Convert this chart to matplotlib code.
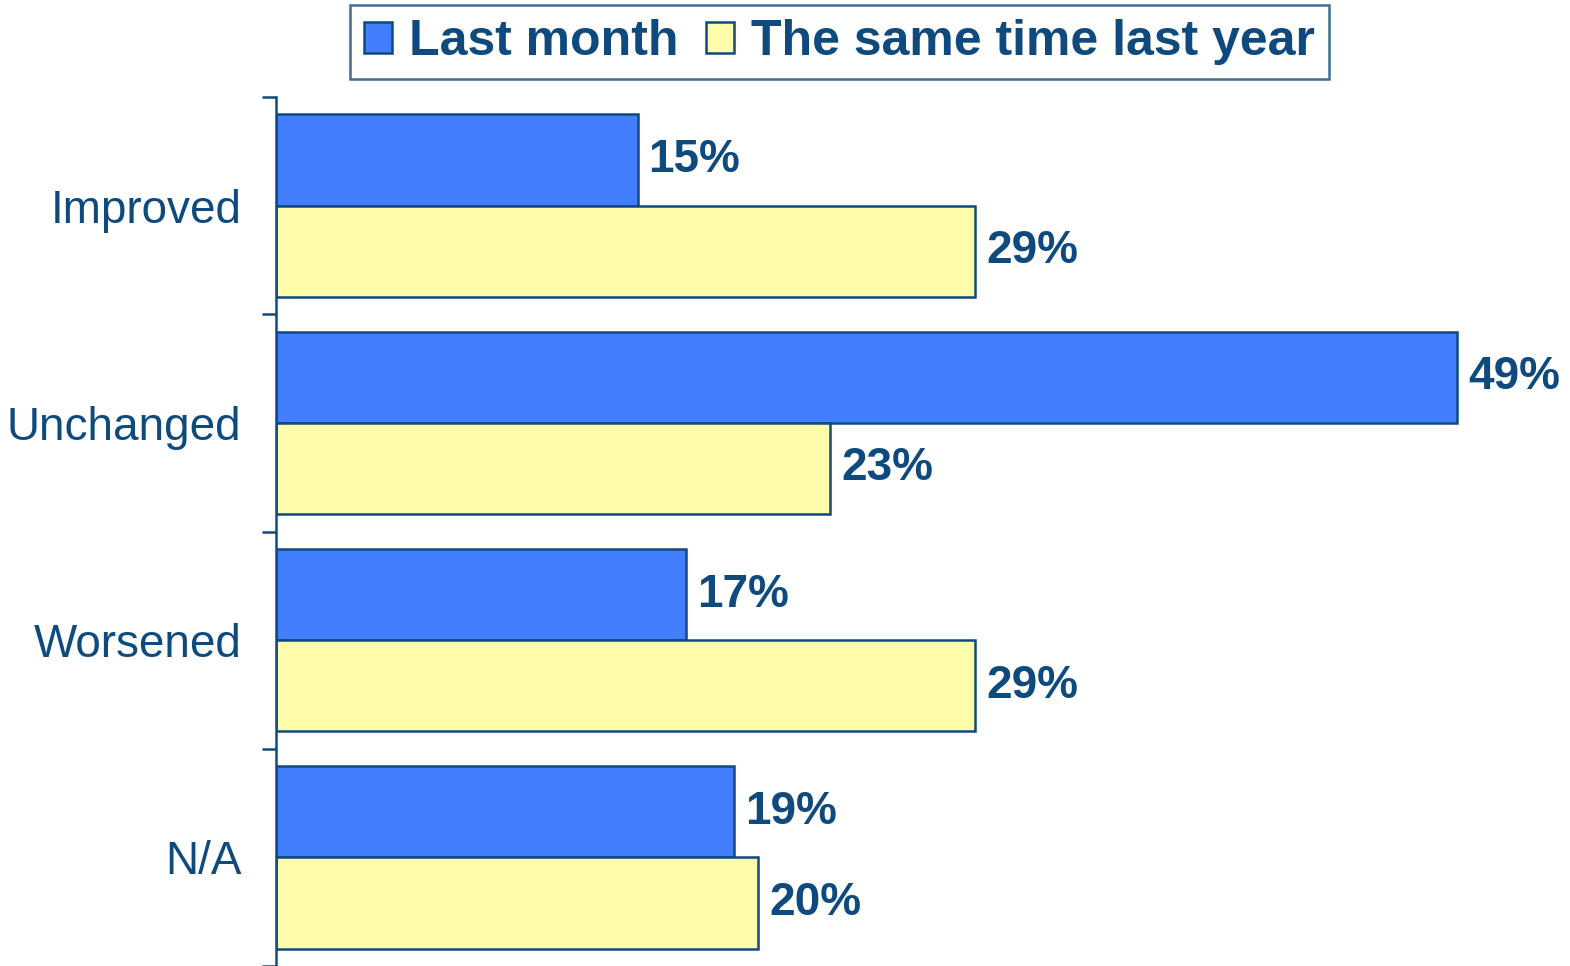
import numpy as np
import matplotlib.pyplot as plt

# --- Datos ---
categorias = ['Improved', 'Unchanged', 'Worsened', 'N/A']
ultimo_mes = [15, 49, 17, 19]
ano_pasado = [29, 23, 29, 20]
series = ['Last month', 'The same time last year']

# --- Estilo ---
navy = '#0E4A7E'
azul = '#437EFF'
amarillo = '#FFFCAA'
plt.rcParams['font.family'] = ['Liberation Sans', 'DejaVu Sans']

fig = plt.figure(figsize=(15.7, 9.66), dpi=100)
ax = fig.add_axes([276 / 1570, 0.0, 1 - 276 / 1570, 1 - 97 / 966])

y = np.arange(len(categorias))
h = 0.42
b1 = ax.barh(y - h / 2, ultimo_mes, height=h, color=azul, edgecolor=navy,
             linewidth=1.8, label=series[0])
b2 = ax.barh(y + h / 2, ano_pasado, height=h, color=amarillo, edgecolor=navy,
             linewidth=1.8, label=series[1])

for bars in (b1, b2):
    ax.bar_label(bars, fmt='%d%%', padding=8, fontsize=33, fontweight='bold',
                 color=navy)

ax.set_xlim(0, (1570 - 276) / 24.1)
ax.set_ylim(len(categorias) - 0.5, -0.5)

# Ejes: solo la espina izquierda con marcas entre categorías
for s in ('top', 'right', 'bottom'):
    ax.spines[s].set_visible(False)
ax.spines['left'].set_color(navy)
ax.spines['left'].set_linewidth(1.8)
ax.set_xticks([])
ax.set_yticks(y)
ax.set_yticklabels(categorias, fontsize=33, color=navy)
ax.tick_params(axis='y', which='major', length=0, pad=25)
ax.set_yticks(np.arange(-0.5, len(categorias)), minor=True)
ax.tick_params(axis='y', which='minor', length=10, width=1.8, color=navy,
               direction='out')

leg = fig.legend(handles=[b1, b2], labels=series, loc='upper center',
                 bbox_to_anchor=(0.535, 1 - 5 / 966), ncol=2,
                 prop={'weight': 'bold', 'size': 36}, frameon=True,
                 fancybox=False, handlelength=0.56, handleheight=0.6,
                 handletextpad=0.34, columnspacing=0.55, borderpad=0.28,
                 borderaxespad=0)
leg.get_frame().set_edgecolor(navy)
leg.get_frame().set_linewidth(1.8)
for t in leg.get_texts():
    t.set_color(navy)

plt.savefig('out.png', dpi=100)
